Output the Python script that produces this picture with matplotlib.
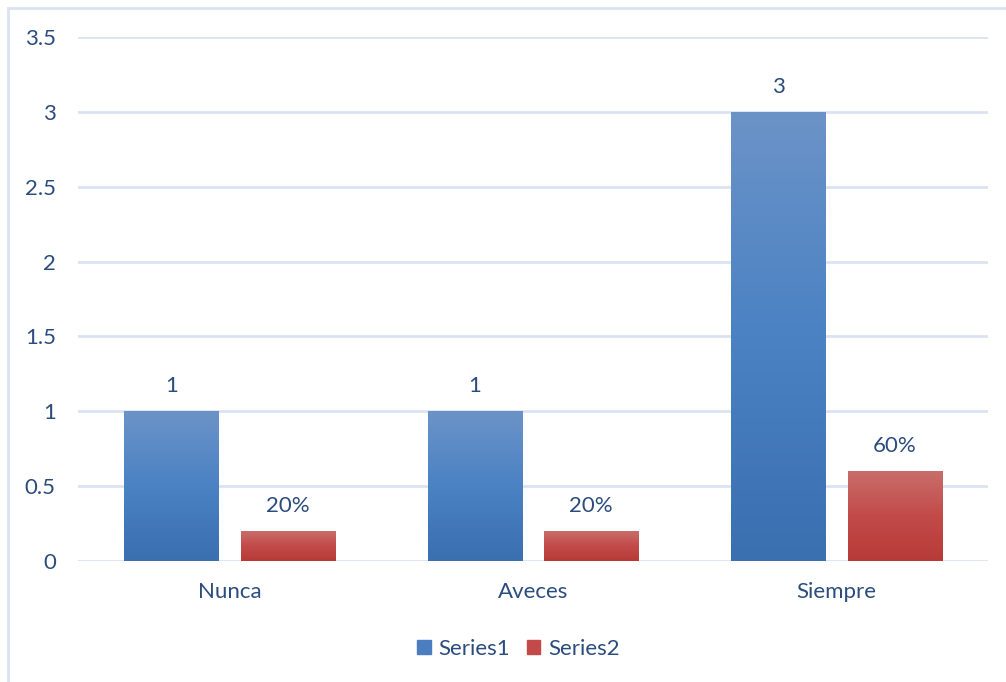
import matplotlib.pyplot as plt
import numpy as np
from matplotlib.colors import LinearSegmentedColormap
from matplotlib.patches import Rectangle

categories = ["Nunca", "Aveces", "Siempre"]
series1 = [1, 1, 3]
series2 = [0.2, 0.2, 0.6]
labels1 = ["1", "1", "3"]
labels2 = ["20%", "20%", "60%"]

plt.rcParams['font.family'] = ['Lato', 'DejaVu Sans']
text_color = "#2B4C7E"
grid_color = "#D9E3F1"

fig = plt.figure(figsize=(10.06, 6.82), dpi=100)
ax = fig.add_axes([78 / 1006, 1 - 561 / 682, 910 / 1006, 524 / 682])

# outer frame
fig.patches.append(Rectangle((8 / 1006, -0.01), 1.02, 1 - 8 / 682 + 0.01,
                             transform=fig.transFigure, fill=False,
                             edgecolor=grid_color, linewidth=2))

x = np.arange(len(categories))
w = 0.31
off = 0.192

blue = LinearSegmentedColormap.from_list("b", ["#3A6FB0", "#4A82C4", "#6C93C7"])
red = LinearSegmentedColormap.from_list("r", ["#B73A38", "#C24B49", "#C96D6A"])
grad = np.linspace(0, 1, 256).reshape(-1, 1)

def grad_bars(xs, vals, cmap, label):
    bars = ax.bar(xs, vals, width=w, color=cmap(0.5), label=label, zorder=2)
    for b in bars:
        x0, y0 = b.get_x(), b.get_y()
        im = ax.imshow(grad, cmap=cmap, aspect="auto", origin="lower",
                       extent=(x0, x0 + b.get_width(), y0, y0 + b.get_height()),
                       zorder=3)
        im.set_clip_path(b)
    return bars

b1 = grad_bars(x - off, series1, blue, "Series1")
b2 = grad_bars(x + off, series2, red, "Series2")

fs = 16
for b, t in zip(b1, labels1):
    ax.annotate(t, (b.get_x() + b.get_width() / 2, b.get_height()),
                xytext=(0, 11), textcoords="offset points", ha="center",
                va="bottom", fontsize=fs, color=text_color)
for b, t in zip(b2, labels2):
    ax.annotate(t, (b.get_x() + b.get_width() / 2, b.get_height()),
                xytext=(0, 11), textcoords="offset points", ha="center",
                va="bottom", fontsize=fs, color=text_color)

ax.set_xlim(-0.5, 2.5)
ax.set_ylim(0, 3.5)
ax.set_yticks(np.arange(0, 3.51, 0.5))
ax.set_yticklabels(["0", "0.5", "1", "1.5", "2", "2.5", "3", "3.5"])
ax.set_xticks(x)
ax.set_xticklabels(categories)
ax.tick_params(length=0, labelsize=fs, labelcolor=text_color)
ax.tick_params(axis="y", pad=16)
ax.tick_params(axis="x", pad=15)
ax.yaxis.grid(True, color=grid_color, linewidth=2)
ax.set_axisbelow(True)
for s in ax.spines.values():
    s.set_visible(False)

leg = ax.legend(loc="upper center", bbox_to_anchor=(0.484, -0.11), ncol=2,
                frameon=False, fontsize=fs, handlelength=0.6, handleheight=0.6,
                handletextpad=0.35, columnspacing=0.75)
for t in leg.get_texts():
    t.set_color(text_color)
leg.legend_handles[0].set_color("#4A7EC0")
leg.legend_handles[1].set_color("#C24B49")

fig.savefig("out.png", dpi=100)
